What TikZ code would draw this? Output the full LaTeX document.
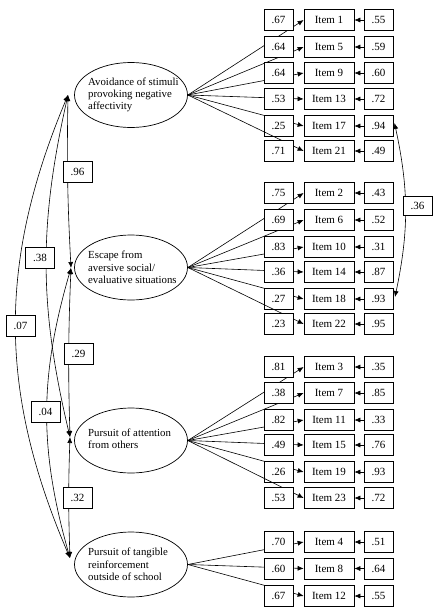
\documentclass[tikz,border=0pt]{standalone}
\usepackage{fontspec}
\setmainfont{Liberation Serif}
\usetikzlibrary{arrows.meta,shapes.geometric}
\begin{document}
\begin{tikzpicture}[x=1pt,y=-1pt,
  every node/.style={font=\fontsize{11}{12}\selectfont},
  box/.style={draw, fill=white, minimum height=21pt, inner sep=0pt, line width=0.7pt},
  ldbox/.style={box, minimum width=29pt},
  itbox/.style={box, minimum width=50pt},
  erbox/.style={box, minimum width=29pt},
  fac/.style={draw, ellipse, minimum width=113pt, minimum height=65pt, inner sep=0pt, line width=0.7pt},
  ftext/.style={align=left, anchor=west, inner sep=0pt, font=\fontsize{10.8}{12.3}\selectfont},
  arr/.style={-{Latex[length=6pt,width=5pt]}, line width=0.6pt},
  darr/.style={{Latex[length=6pt,width=5pt]}-{Latex[length=6pt,width=5pt]}, line width=0.6pt},
]
\useasboundingbox (0,0) rectangle (440,613);

% factors
\node[fac] (F1) at (131,95) {};
\node[fac] (F2) at (131,267.5) {};
\node[fac] (F3) at (131,440.5) {};
\node[fac] (F4) at (131,564.5) {};
\node[ftext] (F1t) at (88,95) {Avoidance of stimuli\\provoking negative\\affectivity};
\node[ftext] (F2t) at (88,267.5) {Escape from\\aversive social/\\evaluative situations};
\node[ftext] (F3t) at (88,439) {Pursuit of attention\\from others};
\node[ftext] (F4t) at (88,564.5) {Pursuit of tangible\\reinforcement\\outside of school};

% items
\foreach \n/\yy/\ld/\er/\fa in {
  1/20/.67/.55/F1, 5/47/.64/.59/F1, 9/73/.64/.60/F1, 13/99/.53/.72/F1, 17/126/.25/.94/F1, 21/151/.71/.49/F1,
  2/193/.75/.43/F2, 6/220/.69/.52/F2, 10/247/.83/.31/F2, 14/272/.36/.87/F2, 18/299/.27/.93/F2, 22/324/.23/.95/F2,
  3/367/.81/.35/F3, 7/393/.38/.85/F3, 11/420/.82/.33/F3, 15/445/.49/.76/F3, 19/472/.26/.93/F3, 23/498/.53/.72/F3,
  4/542/.70/.51/F4, 8/568.5/.60/.64/F4, 12/596/.67/.55/F4}{
  \node[itbox] (i\n) at (329,\yy) {Item \n};
  \draw[arr] (\fa.east) -- (i\n.west);
  \node[ldbox] (l\n) at (278.5,\yy) {\ld};
  \node[erbox] (e\n) at (378.5,\yy) {\er};
  \draw[arr] (e\n.west) -- (i\n.east);
}

% factor covariances
\coordinate (a1) at (68,95);
\coordinate (a2) at (71,268);
\coordinate (a3) at (70,437);
\coordinate (a4) at (70,558);
\draw[darr] (a1) to[bend right=23] (a4);
\draw[darr] (a1) to[bend right=13] (a3);
\draw[darr] (a2) to[bend right=16] (a4);
\draw[darr] (a1) to[bend right=2] (a2);
\draw[darr] (a2) to[bend right=2] (a3);
\draw[darr] (a3) to[bend right=2] (a4);
\node[ldbox] (k96) at (77.5,172) {.96};
\node[ldbox] (k38) at (40,258) {.38};
\node[ldbox] (k07) at (20.5,326) {.07};
\node[ldbox] (k29) at (78.5,354) {.29};
\node[ldbox] (k04) at (45.5,412) {.04};
\node[ldbox] (k32) at (77.5,497.5) {.32};

% error covariance
\coordinate (s1) at (394.5,123);
\coordinate (s2) at (395,297);
\draw[darr] (s1) to[bend left=12] (s2);
\node[ldbox, minimum height=19pt] (k36) at (417.5,205.5) {.36};
\end{tikzpicture}
\end{document}
